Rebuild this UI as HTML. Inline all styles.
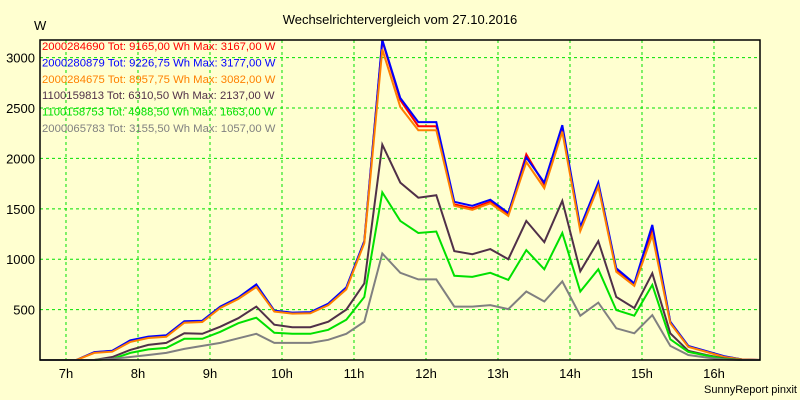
<!DOCTYPE html>
<html><head><meta charset="utf-8"><style>
body{margin:0;background:#ffffd0;}
svg{display:block;font-family:"Liberation Sans",sans-serif;}
</style></head><body>
<svg id="chart" width="800" height="400" viewBox="0 0 800 400">
<rect x="0" y="0" width="800" height="400" fill="#ffffd0"/>
<text x="400" y="24" text-anchor="middle" font-size="13" fill="#000">Wechselrichtervergleich vom 27.10.2016</text>
<text x="34" y="30" font-size="13" fill="#000">W</text>
<text x="797" y="393" text-anchor="end" font-size="11" fill="#000">SunnyReport pinxit</text>
<g id="grid"></g><g id="axes"></g><g id="series"></g><g id="legend"></g>
<rect x="40" y="40" width="720" height="320" fill="none" stroke="#000" stroke-width="1.5"/>
</svg>
<script>
const hourTicks=[7,8,9,10,11,12,13,14,15,16];
const hourLabels=["7h","8h","9h","10h","11h","12h","13h","14h","15h","16h"];
const yTicks=[500,1000,1500,2000,2500,3000];
const seriesNames=["2000284690 Tot: 9165,00 Wh Max: 3167,00 W","2000280879 Tot: 9226,75 Wh Max: 3177,00 W","2000284675 Tot: 8957,75 Wh Max: 3082,00 W","1100159813 Tot: 6310,50 Wh Max: 2137,00 W","1100158753 Tot: 4988,50 Wh Max: 1663,00 W","2000065783 Tot: 3155,50 Wh Max: 1057,00 W"];
const seriesColors=["#ff0000","#0000ff","#ff8000","#503048","#00e000","#808080"];
const redVals=[0,0,0,75,90,190,228,240,380,385,525,615,742,485,465,470,552,712,1175,3167,2580,2320,2320,1545,1505,1570,1445,2040,1740,2300,1300,1740,890,745,1300,375,135,85,35,5,0];
const blueVals=[0,0,0,78,92,195,232,245,385,390,530,620,750,490,470,475,560,720,1180,3177,2600,2360,2360,1570,1530,1590,1460,2010,1760,2330,1320,1760,910,760,1340,380,140,88,38,5,0];
const orangeVals=[0,0,0,70,82,180,218,230,370,377,516,605,724,480,460,463,545,700,1160,3082,2510,2280,2280,1530,1490,1555,1430,1965,1705,2265,1280,1720,875,735,1240,365,130,80,30,5,0];
const darkVals=[0,0,0,0,30,100,150,170,265,260,330,415,530,350,325,325,380,500,760,2137,1760,1610,1635,1080,1050,1100,1000,1380,1170,1580,880,1180,625,515,860,265,90,50,15,0,0];
const greenVals=[0,0,0,0,10,70,105,120,210,210,280,365,420,270,260,260,300,400,625,1663,1380,1260,1275,835,825,865,795,1090,900,1260,680,900,495,440,745,205,80,45,10,0,0];
const grayVals=[0,0,0,0,12,30,50,70,110,140,170,215,260,170,170,170,200,260,380,1057,865,800,800,530,530,545,505,680,580,780,440,570,315,265,445,140,50,25,5,0,0];
const allSeries=[redVals,blueVals,orangeVals,darkVals,greenVals,grayVals];
const startHour=6.643, stepHour=0.25;
const NS="http://www.w3.org/2000/svg";
const X0=40,X1=760,Y0=360,Y1=40,H0=6.639,H1=16.639,VMAX=3175;
function xs(h){return X0+(h-H0)/(H1-H0)*(X1-X0);}
function ys(v){return Y0-v/VMAX*(Y0-Y1);}
function mk(tag,attrs,parent){const e=document.createElementNS(NS,tag);for(const k in attrs)e.setAttribute(k,attrs[k]);parent.appendChild(e);return e;}
const grid=document.getElementById('grid'),axes=document.getElementById('axes'),ser=document.getElementById('series'),leg=document.getElementById('legend');
hourTicks.forEach((h,i)=>{
 const x=xs(h);
 const l=mk('line',{x1:x,y1:Y1,x2:x,y2:Y0,stroke:'#00e000','stroke-dasharray':'3,3','stroke-width':1},grid);
 
 
 const t=mk('text',{x:x,y:378,'text-anchor':'middle','font-size':13,fill:'#000'},axes);
 t.textContent=hourLabels[i];
 
 
});
yTicks.forEach(v=>{
 const y=ys(v);
 const l=mk('line',{x1:X0,y1:y,x2:X1,y2:y,stroke:'#00e000','stroke-dasharray':'3,3','stroke-width':1},grid);
 
 
 const t=mk('text',{x:35,y:y+5,'text-anchor':'end','font-size':13,fill:'#000'},axes);
 t.textContent=String(v);
 
 
});
allSeries.forEach((vals,si)=>{
 const pts=vals.map((v,k)=>xs(startHour+k*stepHour).toFixed(1)+','+ys(v).toFixed(1)).join(' ');
 const p=mk('polyline',{points:pts,fill:'none',stroke:seriesColors[si],'stroke-width':2,'stroke-linejoin':'miter'},ser);
 
 
 const t=mk('text',{x:42,y:50+si*16.4,'font-size':11.3,fill:seriesColors[si]},leg);
 t.textContent=seriesNames[si];
 
 
});
</script>
</body></html>
